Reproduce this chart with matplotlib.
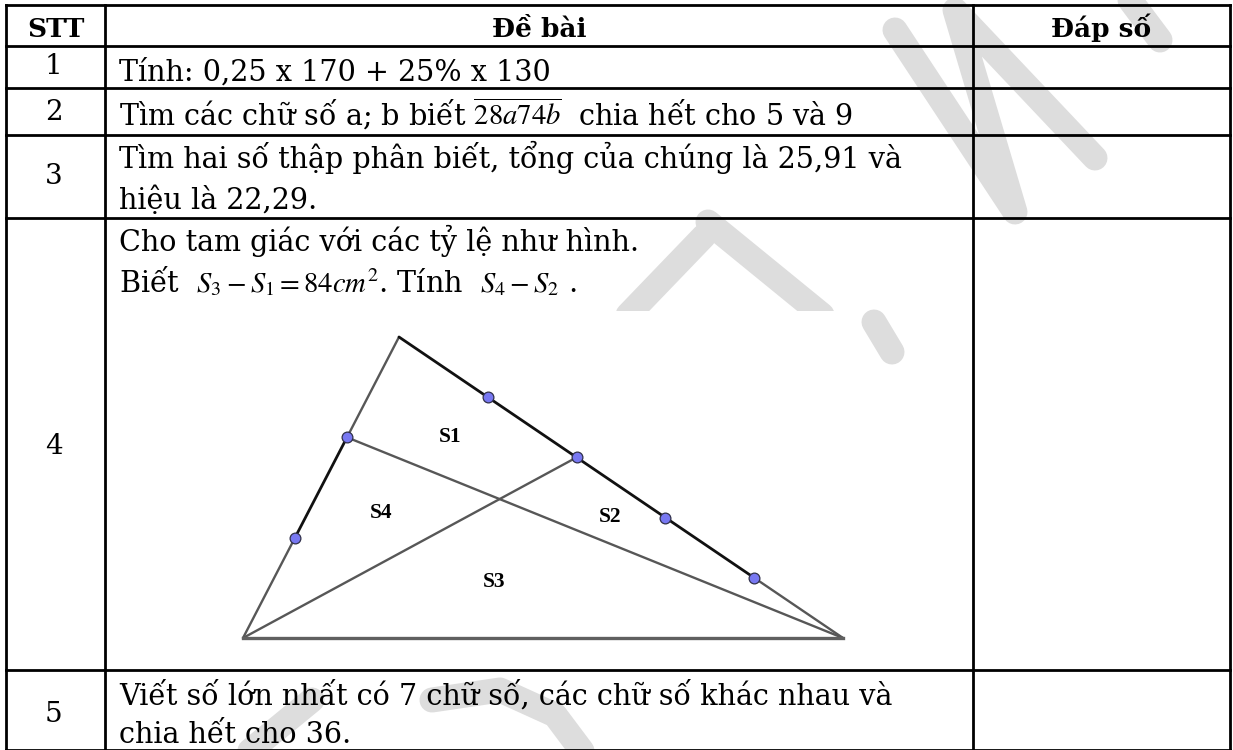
import numpy as np
import matplotlib.pyplot as plt

plt.rcParams['mathtext.fontset'] = 'stix'

# table grid (pixel units of the page)
col_x = [6, 105, 973, 1230]
row_y = [5, 46, 88, 135, 218, 670, 750]

headers = ['STT', 'Đề bài', 'Đáp số']
stt = ['1', '2', '3', '4', '5']
stt_y = [67, 112, 177, 447, 714]

# each line: (y baseline, text)
lines = [
    (81, 'Tính: 0,25 x 170 + 25% x 130'),
    (125, r'Tìm các chữ số a; b biết $\overline{28a74b}$  chia hết cho 5 và 9'),
    (168, 'Tìm hai số thập phân biết, tổng của chúng là 25,91 và'),
    (209, 'hiệu là 22,29.'),
    (251, 'Cho tam giác với các tỷ lệ như hình.'),
    (292, r'Biết  $S_3-S_1=84cm^2$. Tính  $S_4-S_2$ .'),
    (705, 'Viết số lớn nhất có 7 chữ số, các chữ số khác nhau và'),
    (743, 'chia hết cho 36.'),
]

# triangle
A = (399, 337)
B = (243, 638)
C = (843, 638)
left_t = [1 / 3, 2 / 3]
right_t = [0.2, 0.4, 0.6, 0.8]
labels = ['S1', 'S2', 'S3', 'S4']
label_xy = [(450, 437), (610, 517), (494, 582), (381, 513)]

# faint watermark strokes
wm = [
    [(895, 30), (1015, 212), (955, 10), (1095, 158)],
    [(1130, 0), (1160, 40)],
    [(708, 222), (822, 315)],
    [(704, 236), (628, 315)],
    [(874, 322), (892, 352)],
    [(245, 755), (312, 700)],
    [(432, 700), (500, 690), (555, 715), (585, 755)],
]


def pt(P, Q, t):
    return (P[0] + (Q[0] - P[0]) * t, P[1] + (Q[1] - P[1]) * t)


fig = plt.figure(figsize=(12.33, 7.5), dpi=100)
ax = fig.add_axes([0, 0, 1, 1])
ax.set_xlim(0, 1233)
ax.set_ylim(750, 0)
ax.axis('off')

for s in wm:
    xs, ys = zip(*s)
    ax.plot(xs, ys, color='#dddddd', lw=18, solid_capstyle='round',
            solid_joinstyle='round', zorder=1)

# white picture box of the figure hides the watermark behind it
ax.add_patch(plt.Rectangle((232, 311), 622, 345, facecolor='white',
                           edgecolor='none', zorder=2))

# grid lines
for y in row_y:
    ax.plot([col_x[0], col_x[-1]], [y, y], color='black', lw=2, zorder=3)
for x in col_x:
    ax.plot([x, x], [row_y[0], row_y[-1]], color='black', lw=2, zorder=3)

txt = dict(family='DejaVu Serif', zorder=4)
centers = [(col_x[i] + col_x[i + 1]) / 2 for i in range(3)]
for cx, h in zip(centers, headers):
    ax.text(cx, 37, h, ha='center', va='baseline', fontweight='bold',
            fontsize=19, **txt)
for s, y in zip(stt, stt_y):
    ax.text(centers[0] - 2, y, s, ha='center', va='center', fontsize=20, **txt)
for y, s in lines:
    ax.text(119, y, s, ha='left', va='baseline', fontsize=20.6, **txt)

# triangle figure
P = [pt(A, B, t) for t in left_t]
Q = [pt(A, C, t) for t in right_t]
gray = '#575757'
segs_gray = [(A, P[0]), (P[1], B), (Q[-1], C), (B, Q[1]), (P[0], C)]
segs_black = [(P[0], P[1]), (A, Q[-1])]
for a, b in segs_gray:
    ax.plot([a[0], b[0]], [a[1], b[1]], color=gray, lw=1.7, zorder=5,
            solid_capstyle='round')
ax.plot([B[0], C[0]], [B[1], C[1]], color='#606060', lw=2.4, zorder=5)
for a, b in segs_black:
    ax.plot([a[0], b[0]], [a[1], b[1]], color='#111111', lw=2.0, zorder=5,
            solid_capstyle='round')
dots = np.array(P + Q)
ax.scatter(dots[:, 0], dots[:, 1], s=60, facecolor='#7878f2',
           edgecolor='#30304a', linewidth=0.9, zorder=6)
for lab, (x, y) in zip(labels, label_xy):
    ax.text(x, y, lab, ha='center', va='center', family='Liberation Serif',
            fontweight='bold', fontsize=15.5, zorder=6)

fig.savefig('out.png', dpi=100)
